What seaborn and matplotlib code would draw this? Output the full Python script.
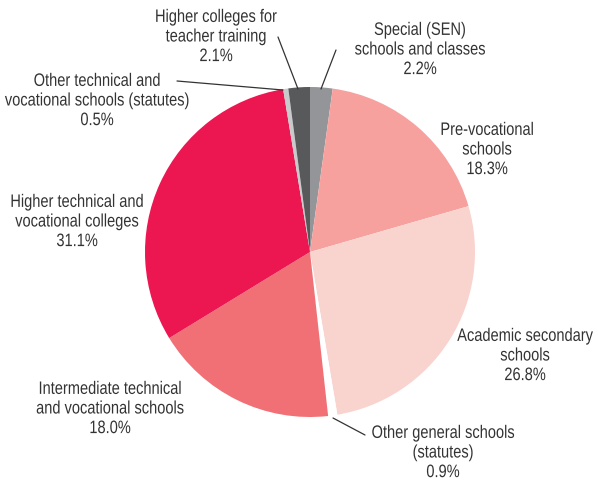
import matplotlib
matplotlib.use("Agg")
import matplotlib.pyplot as plt
import seaborn as sns
from matplotlib.patheffects import AbstractPathEffect
from matplotlib.transforms import Affine2D

# === DATOS ===
labels = [
    "Special (SEN)\nschools and classes",
    "Pre-vocational\nschools",
    "Academic secondary\nschools",
    "Other general schools\n(statutes)",
    "Intermediate technical\nand vocational schools",
    "Higher technical and\nvocational colleges",
    "Other technical and\nvocational schools (statutes)",
    "Higher colleges for\nteacher training",
]
shares = [2.2, 18.3, 26.8, 0.9, 18.0, 31.1, 0.5, 2.1]
colors = ["#939598", "#f7a19f", "#f9d3ce", "#ffffff",
          "#f07075", "#ec1651", "#c9cacc", "#58595b"]

# posiciones de texto (px desde arriba) y líneas guía
label_pos = [(420, 50), (487, 150), (525, 356), (443, 453),
             (110, 409), (77, 222), (97, 101), (216, 37)]
leaders = {3: ((333, 418), (365, 435)),
           6: ((283, 90), (177, 81)),
           7: ((298, 89), (278, 37)),
           0: ((321, 89), (336, 50))}

W, H = 598, 483
SX = 0.81  # compresión horizontal (fuente condensada)


# texto condensado: comprime horizontalmente alrededor de un ancla
class Squeeze(AbstractPathEffect):
    def __init__(self, ax0, sx=SX):
        super().__init__()
        self.ax0, self.sx = ax0, sx

    def draw_path(self, renderer, gc, tpath, affine, rgbFace=None):
        t = affine + Affine2D().translate(-self.ax0, 0).scale(self.sx, 1).translate(self.ax0, 0)
        renderer.draw_path(gc, tpath, t, rgbFace)


sns.set_theme(style="white")
plt.rcParams["font.family"] = ["Liberation Sans", "DejaVu Sans"]

fig = plt.figure(figsize=(W / 100, H / 100), dpi=100)
ax = fig.add_axes([0, 0, 1, 1])

ax.pie(shares, colors=colors, startangle=90, counterclock=False,
       center=(310, H - 252), radius=165,
       wedgeprops=dict(linewidth=0))

ax.set_xlim(0, W)
ax.set_ylim(0, H)
ax.set_aspect("auto")
ax.axis("off")

renderer = fig.canvas.get_renderer()
for i, (lab, val) in enumerate(zip(labels, shares)):
    x, y = label_pos[i]
    txt = ax.text(x, H - y, f"{lab}\n{val:.1f}%", ha="center", va="center",
                  multialignment="center", fontsize=13, color="#333333",
                  linespacing=1.2)
    w = txt.get_window_extent(renderer).width
    # anclar en el borde del lado de la figura para que la caja quede dentro
    if x < W / 2:
        anchor = x - SX * w / 2
        txt.set_horizontalalignment("left")
    else:
        anchor = x + SX * w / 2
        txt.set_horizontalalignment("right")
    txt.set_x(anchor)
    txt.set_path_effects([Squeeze(ax.transData.transform((anchor, 0))[0])])

for i, (p0, p1) in leaders.items():
    ax.plot([p0[0], p1[0]], [H - p0[1], H - p1[1]], color="#333333", lw=0.9)

fig.savefig("out.png", dpi=100)
